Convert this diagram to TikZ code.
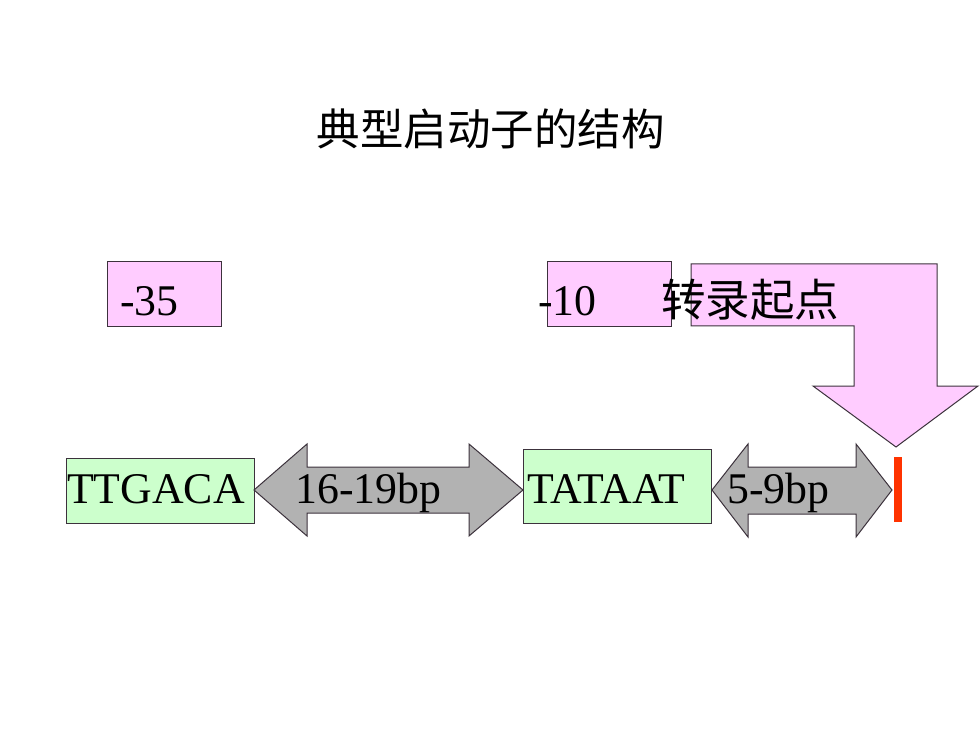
\documentclass[tikz,border=0pt]{standalone}
\usepackage{fontspec}
\setmainfont{Liberation Serif}
\newfontfamily\cjk{Noto Sans CJK SC}
\definecolor{pinkfill}{RGB}{255,204,255}
\definecolor{greenfill}{RGB}{204,255,204}
\definecolor{grayfill}{RGB}{178,178,178}
\definecolor{edge}{RGB}{60,50,60}
\definecolor{startred}{RGB}{255,51,0}
\tikzset{
  shapeline/.style={draw=edge, line width=1pt, line join=miter},
  pinkbox/.style={shapeline, fill=pinkfill},
  greenbox/.style={shapeline, fill=greenfill},
  grayarrow/.style={shapeline, fill=grayfill},
  serif/.style={inner sep=0pt, font=\fontsize{43.8}{44}\selectfont},
  cjktext/.style={inner sep=0pt, font=\cjk\fontsize{43.5}{43.5}\selectfont},
  cjklabel/.style={inner sep=0pt, font=\cjk\fontsize{44.5}{44.5}\selectfont}
}
\begin{document}
\begin{tikzpicture}[x=1pt,y=-1pt]
\useasboundingbox (0,0) rectangle (980,735);
% title
\node[cjktext] (title) at (490.5,129) {典型启动子的结构};
% upper boxes
\draw[pinkbox] (107,262) rectangle (221,327);
\node[serif, anchor=base west] (m35) at (120,316) {-35};
\draw[pinkbox] (547,262) rectangle (671,327);
% bent arrow
\draw[pinkbox] (691,264) -- (937,264) -- (937,386) -- (978,386) -- (896,447)
  -- (813,386) -- (854,386) -- (854,326) -- (691,326) -- cycle;
\node[serif, anchor=base west] (m10) at (538,316) {-10};
\node[cjklabel, anchor=west] (start) at (661,300) {转录起点};
% lower row
\draw[greenbox] (66,458) rectangle (254,523);
\node[serif, anchor=base west] (box35) at (67,503) {TTGACA};
\draw[grayarrow] (254,490) -- (307,444) -- (307,467) -- (469,467) -- (469,444)
  -- (523,490) -- (469,536) -- (469,513) -- (307,513) -- (307,536) -- cycle;
\node[serif, anchor=base west] (gap1) at (295,503) {16-19bp};
\draw[greenbox] (523,449) rectangle (711,523);
\node[serif, anchor=base west] (box10) at (527,503) {TATAAT};
\draw[grayarrow] (712,490) -- (748,444) -- (748,467) -- (856,467) -- (856,444)
  -- (892,490) -- (856,537) -- (856,514) -- (748,514) -- (748,537) -- cycle;
\node[serif, anchor=base west] (gap2) at (727,503) {5-9bp};
\fill[startred] (894,457) rectangle (902,522);
\end{tikzpicture}
\end{document}
